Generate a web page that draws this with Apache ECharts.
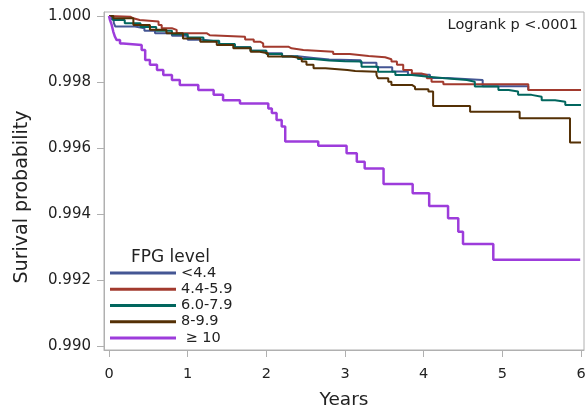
<!DOCTYPE html>
<html>
<head>
<meta charset="utf-8">
<script src="https://cdn.jsdelivr.net/npm/echarts@6/dist/echarts.min.js"></script>
<style>html,body{margin:0;padding:0;background:#fff}#c{width:587px;height:410px}</style>
</head>
<body>
<div id="c"></div>
<script>
const groupNames = ['<4.4', '4.4-5.9', '6.0-7.9', '8-9.9', ' \u2265 10'];
const xTicks = [0, 1, 2, 3, 4, 5, 6];
const yTicks = [0.990, 0.992, 0.994, 0.996, 0.998, 1.000];

const blue = [[0,1],[0.03,0.9999],[0.06,0.9998],[0.08,0.99968],[0.33,0.99963],[0.45,0.99955],[0.585,0.99948],[0.8,0.9994],[1.0,0.99928],[1.2,0.99922],[1.4,0.99913],[1.6,0.99905],[1.8,0.99895],[2.0,0.99887],[2.2,0.99878],[2.4,0.99873],[2.6,0.99868],[2.8,0.99866],[3.2,0.99858],[3.4,0.99845],[3.6,0.99832],[3.8,0.99822],[4.08,0.99812],[4.3,0.99806],[4.75,0.99787],[5.33,0.99776],[6.0,0.99776]];

const red = [[0,1],[0.013,0.99998],[0.27,0.99993],[0.31,0.99988],[0.39,0.99983],[0.63,0.99973],[0.67,0.99963],[0.80,0.99958],[0.86,0.99948],[1.24,0.99942],[1.28,0.99937],[1.73,0.99929],[1.84,0.99922],[1.92,0.99917],[1.96,0.99907],[2.28,0.99902],[2.32,0.99897],[2.47,0.99892],[2.85,0.99885],[3.06,0.99879],[3.30,0.99875],[3.51,0.99869],[3.59,0.99862],[3.66,0.99852],[3.74,0.99836],[3.85,0.99826],[3.97,0.99821],[4.04,0.99811],[4.10,0.99801],[4.25,0.99793],[5.33,0.99776],[6.0,0.99776]];

const teal = [[0,1],[0.05,0.99988],[0.2,0.99978],[0.4,0.99967],[0.6,0.99955],[0.8,0.99945],[1.0,0.99935],[1.2,0.99925],[1.4,0.99915],[1.6,0.99905],[1.8,0.99895],[2.0,0.99885],[2.2,0.99877],[2.4,0.9987],[2.6,0.99865],[2.8,0.99863],[3.0,0.99862],[3.21,0.99846],[3.42,0.99831],[3.64,0.99821],[3.85,0.99816],[4.06,0.99811],[4.27,0.99806],[4.55,0.99801],[4.65,0.99786],[4.95,0.99776],[5.08,0.99771],[5.2,0.99761],[5.37,0.99755],[5.5,0.99745],[5.67,0.9974],[5.8,0.9973],[6.0,0.99728]];

const brown = [[0,1],[0.055,0.99993],[0.31,0.99973],[0.52,0.99958],[0.73,0.99948],[0.94,0.99932],[1.16,0.99922],[1.37,0.99912],[1.58,0.99902],[1.80,0.99892],[1.90,0.99887],[2.02,0.99877],[2.32,0.99872],[2.45,0.99862],[2.51,0.99852],[2.60,0.99842],[2.75,0.99836],[3.03,0.99833],[3.13,0.99831],[3.40,0.99821],[3.42,0.99811],[3.55,0.99801],[3.59,0.99791],[3.85,0.99785],[3.89,0.99778],[4.06,0.99771],[4.12,0.99727],[4.59,0.9971],[5.22,0.9969],[5.86,0.99617],[6.0,0.99617]];

const purple = [[0,1],[0.01,0.9999],[0.034,0.99973],[0.055,0.99952],[0.076,0.99937],[0.098,0.99927],[0.14,0.99917],[0.18,0.99912],[0.415,0.99897],[0.46,0.99867],[0.52,0.99852],[0.61,0.99836],[0.69,0.99821],[0.80,0.99806],[0.90,0.99791],[1.135,0.99776],[1.33,0.99761],[1.45,0.99745],[1.665,0.99735],[2.025,0.9972],[2.07,0.99706],[2.13,0.99685],[2.195,0.99665],[2.24,0.9962],[2.66,0.99607],[3.02,0.99584],[3.15,0.99558],[3.25,0.99538],[3.49,0.99491],[3.86,0.99463],[4.07,0.99424],[4.31,0.99387],[4.44,0.99346],[4.50,0.99309],[4.885,0.99261],[5.99,0.99261]];

const seriesData = [blue, red, teal, brown, purple];
const colors = ['#445694', '#A23A2E', '#01665E', '#543005', '#9D3CDB'];
const FONT = 'DejaVu Sans';

const chart = echarts.init(document.getElementById('c'), null, {renderer: 'canvas'});
chart.setOption({
  animation: false,
  backgroundColor: '#fff',
  textStyle: {fontFamily: FONT},
  title: [
    {text: 'FPG level', left: 126, top: 244, textStyle: {fontFamily: FONT, fontSize: 17, fontWeight: 'normal', color: '#222'}},
    {text: 'Logrank p <.0001', right: 4, top: 13, textStyle: {fontFamily: FONT, fontSize: 14.5, fontWeight: 'normal', color: '#222'}}
  ],
  graphic: [
    {type: 'text', x: 22, y: 197, rotation: Math.PI / 2,
     style: {text: 'Surival probability', fontFamily: FONT, fontSize: 19, fill: '#222', align: 'center', verticalAlign: 'middle'}}
  ],
  legend: {
    orient: 'vertical', left: 110, top: 265, itemGap: 0, padding: 0,
    icon: 'rect', itemWidth: 66, itemHeight: 3,
    textStyle: {fontFamily: FONT, fontSize: 14.5, color: '#222', lineHeight: 16.2, padding: [0,0,0,0]},
    data: groupNames
  },
  grid: {left: 104, right: 3, top: 12, bottom: 60, show: true, borderColor: '#b0b0b0', borderWidth: 1,
         containLabel: false, outerBoundsMode: 'none'},
  xAxis: {
    type: 'value', min: -0.0636, max: 6.038,
    name: 'Years', nameLocation: 'middle', nameGap: 41,
    nameTextStyle: {fontFamily: FONT, fontSize: 18.5, color: '#222'},
    axisLine: {show: true, onZero: false, lineStyle: {color: '#b0b0b0'}},
    axisTick: {show: true, length: 7, customValues: xTicks, lineStyle: {color: '#b0b0b0'}},
    axisLabel: {customValues: xTicks, fontSize: 14.5, color: '#222', margin: 17, formatter: v => String(Math.round(v))},
    splitLine: {show: false}
  },
  yAxis: {
    type: 'value', min: 0.989879, max: 1.000121,
    axisLine: {show: true, onZero: false, lineStyle: {color: '#b0b0b0'}},
    axisTick: {show: true, length: 7, customValues: yTicks, lineStyle: {color: '#b0b0b0'}},
    axisLabel: {customValues: yTicks, fontSize: 15, color: '#222', margin: 13, formatter: v => v.toFixed(3)},
    splitLine: {show: false}
  },
  series: seriesData.map((d, i) => ({
    name: groupNames[i], type: 'line', step: 'end', data: d,
    showSymbol: false, symbol: 'none',
    lineStyle: {color: colors[i], width: i === 4 ? 2.5 : 2},
    itemStyle: {color: colors[i]},
    z: 2 + i
  }))
});
</script>
</body>
</html>
